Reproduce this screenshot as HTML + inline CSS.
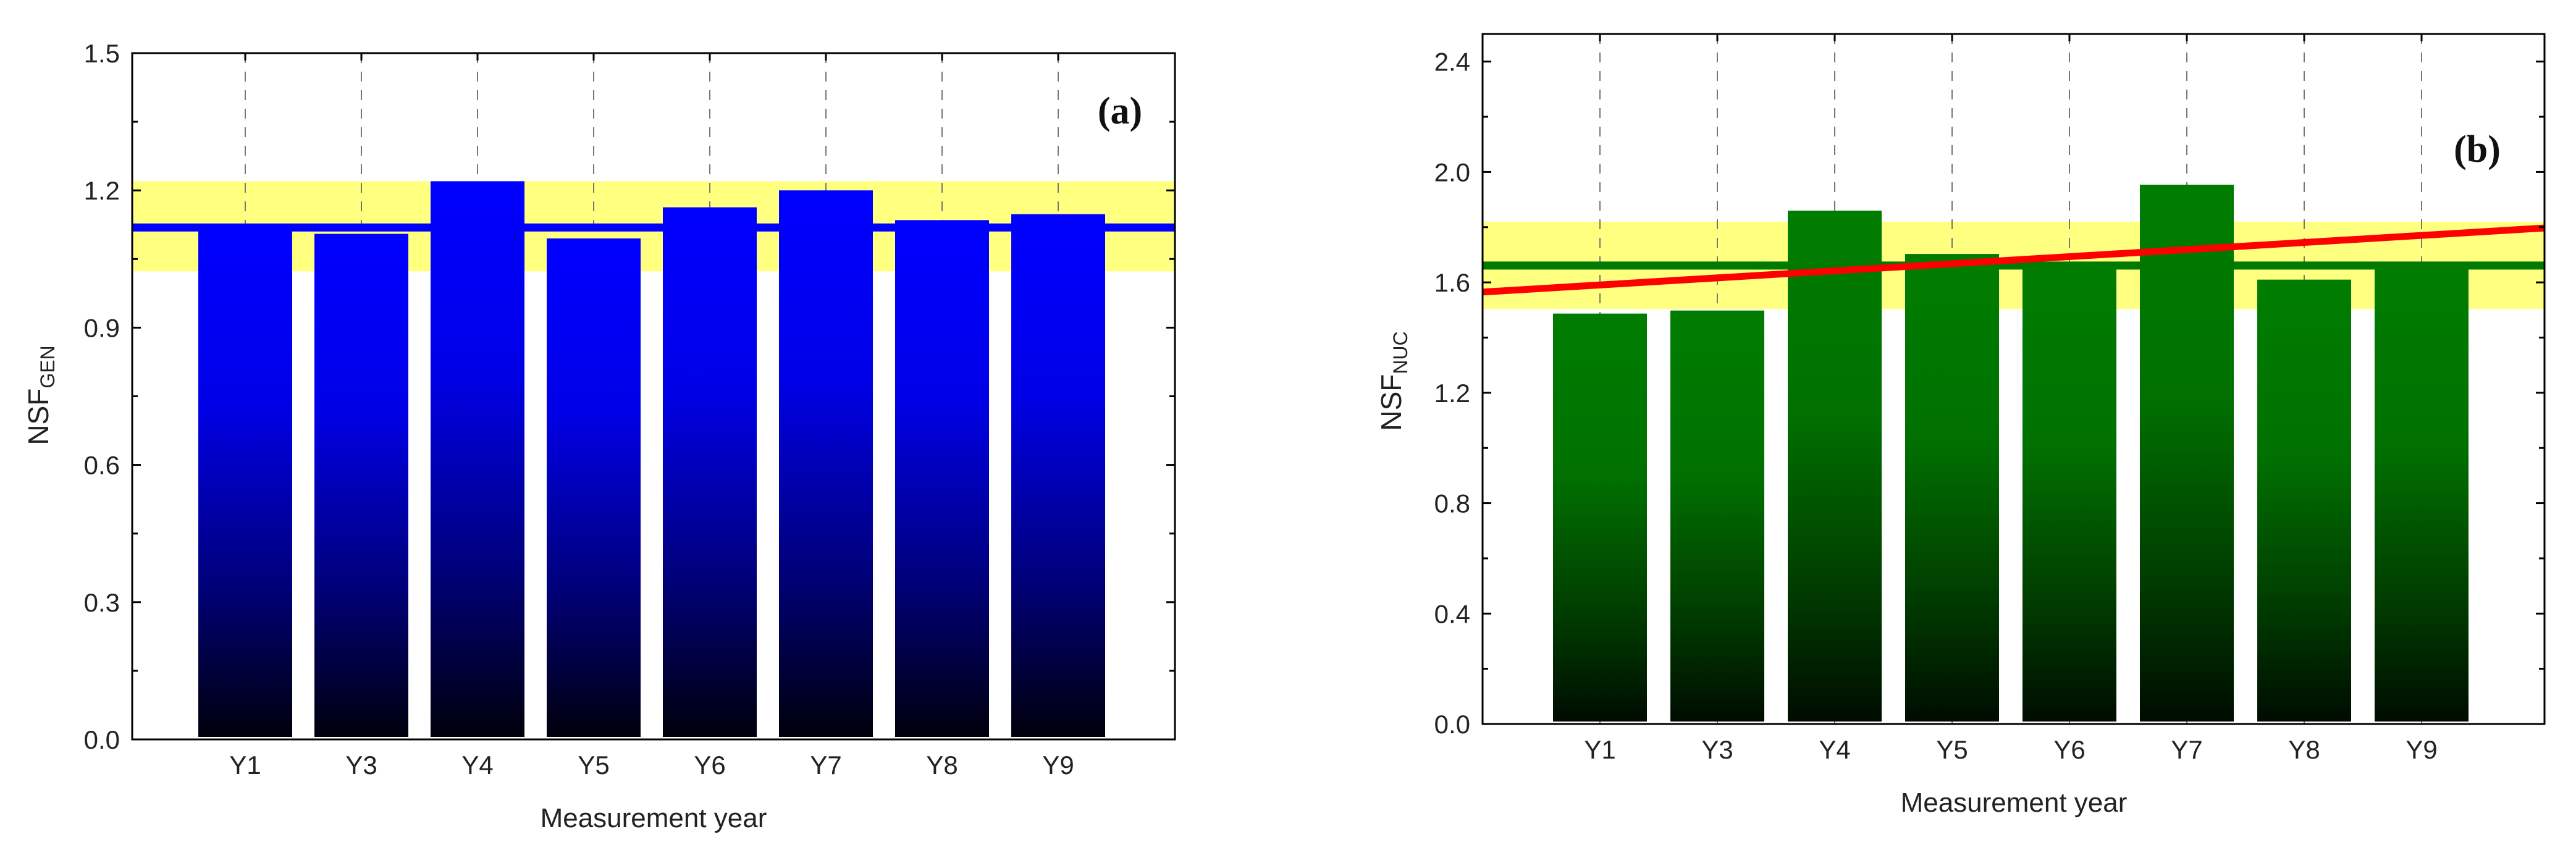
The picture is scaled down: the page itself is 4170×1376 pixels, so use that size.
<!DOCTYPE html>
<html><head><meta charset="utf-8"><style>
body{margin:0;background:#fff;}
svg{display:block;font-family:"Liberation Sans",Arial,sans-serif;}
</style></head><body>
<svg id="chart" width="4170" height="1376" viewBox="0 0 4170 1376" xmlns="http://www.w3.org/2000/svg">
<defs>
<linearGradient id="gBlue" x1="0" y1="0" x2="0" y2="1">
<stop offset="0" stop-color="#0000ff"/><stop offset="0.35" stop-color="#0000e6"/><stop offset="0.7" stop-color="#00007a"/><stop offset="1" stop-color="#00000c"/>
</linearGradient>
<linearGradient id="gGreen" x1="0" y1="0" x2="0" y2="1">
<stop offset="0" stop-color="#007d00"/><stop offset="0.4" stop-color="#007000"/><stop offset="0.75" stop-color="#003a00"/><stop offset="1" stop-color="#000c00"/>
</linearGradient>
</defs>
<g id="panelA"></g>
<g id="panelB"></g>
</svg>
<script>
const categories = ["Y1","Y3","Y4","Y5","Y6","Y7","Y8","Y9"];
const genValues = [1.12,1.105,1.22,1.095,1.163,1.2,1.135,1.148];
const genMean = 1.119;
const genBand = [1.023,1.22];
const genTicks = ["0.0","0.3","0.6","0.9","1.2","1.5"];
const nucValues = [1.487,1.498,1.86,1.703,1.66,1.954,1.61,1.66];
const nucMean = 1.661;
const nucBand = [1.504,1.82];
const nucTrend = [1.565,1.797];
const nucTicks = ["0.0","0.4","0.8","1.2","1.6","2.0","2.4"];

const NS="http://www.w3.org/2000/svg";
function mk(parent,tag,attrs){const e=document.createElementNS(NS,tag);for(const k in attrs)e.setAttribute(k,attrs[k]);parent.appendChild(e);return e;}

function drawPanel(g,cfg){
  const {L,R,T,B,ymax,first,step,values,mean,band,ticks,tickStep,minor,grad,lineColor,tag,tagX,tagY,ytitle,sub,trend,xcat}=cfg;
  const y=v=>B-(v/ymax)*(B-T);
  const x=i=>first+i*step;
  // band
  const bandEl=mk(g,'rect',{x:L,y:y(band[1]),width:R-L,height:y(band[0])-y(band[1]),fill:'#ffff80'});
  
  
  // dashed gridlines
  categories.forEach((c,i)=>{
    const d=mk(g,'line',{x1:x(i),x2:x(i),y1:T,y2:B,stroke:'#777','stroke-width':2,'stroke-dasharray':'16,14'});
    
    
    const tt=mk(g,'line',{x1:x(i),x2:x(i),y1:T,y2:T+12,stroke:'#000','stroke-width':3});
    
    
  });
  // mean line (drawn under bars where bars exceed; reference line appears over lower bars)
  const bw=152;
  categories.forEach((c,i)=>{
    const b=mk(g,'rect',{x:x(i)-bw/2,y:y(values[i]),width:bw,height:B-4-y(values[i]),fill:'url(#'+grad+')'});
    
    
  });
  // mean line segments only where not covered by taller bars
  let segs=[[L,R]];
  categories.forEach((c,i)=>{
    if(values[i]>mean+0.005){
      const a=x(i)-bw/2,b2=x(i)+bw/2;const ns=[];
      segs.forEach(s=>{if(b2<=s[0]||a>=s[1])ns.push(s);else{if(a>s[0])ns.push([s[0],a]);if(b2<s[1])ns.push([b2,s[1]]);}});
      segs=ns;
    }
  });
  segs.forEach(s=>{
    const m=mk(g,'line',{x1:s[0],x2:s[1],y1:y(mean),y2:y(mean),stroke:lineColor,'stroke-width':13});
    
    
  });
  if(trend){
    const tr=mk(g,'line',{x1:L,x2:R,y1:y(trend[0]),y2:y(trend[1]),stroke:'#ff0000','stroke-width':11});
    
    
  }
  // axes box
  const box=mk(g,'rect',{x:L,y:T,width:R-L,height:B-T,fill:'none',stroke:'#000','stroke-width':3});
  
  
  // y ticks
  for(let k=0;k<=Math.round(ymax/minor);k++){
    const v=k*minor;const yy=y(v);
    const major=Math.abs((v/tickStep)-Math.round(v/tickStep))<1e-6;
    const len=major?14:9;
    if(yy<T-1)continue;
    const t1=mk(g,'line',{x1:L,x2:L+len,y1:yy,y2:yy,stroke:'#000','stroke-width':3});
    
    
    const t2=mk(g,'line',{x1:R-len,x2:R,y1:yy,y2:yy,stroke:'#000','stroke-width':3});
    
    
  }
  ticks.forEach((t,i)=>{
    const tx=mk(g,'text',{x:L-20,y:y(i*tickStep)+15,'text-anchor':'end','font-size':42,fill:'#222'});
    tx.textContent=t;
    
    
  });
  categories.forEach((c,i)=>{
    const tx=mk(g,'text',{x:x(i),y:B+56,'text-anchor':'middle','font-size':42,fill:'#222'});
    tx.textContent=c;
    
    
  });
  const xt=mk(g,'text',{x:xcat,y:B+142,'text-anchor':'middle','font-size':44,fill:'#222'});
  xt.textContent='Measurement year';
  
  
  const yt=mk(g,'text',{x:0,y:0,'text-anchor':'middle','font-size':46,fill:'#222',transform:'translate('+cfg.ytx+','+cfg.yty+') rotate(-90)'});
  
  
  yt.appendChild(document.createTextNode('NSF'));
  const ts=document.createElementNS(NS,'tspan');ts.setAttribute('font-size','32');ts.setAttribute('dy','10');ts.textContent=sub;yt.appendChild(ts);
  const lb=mk(g,'text',{x:tagX,y:tagY,'text-anchor':'middle','font-size':62,'font-weight':'bold','font-family':'"Liberation Serif",serif',fill:'#111'});
  lb.textContent=tag;
  
  
}

drawPanel(document.getElementById('panelA'),{L:214,R:1902,T:86,B:1197,ymax:1.5,first:397,step:188,values:genValues,mean:genMean,band:genBand,ticks:genTicks,tickStep:0.3,minor:0.15,grad:'gBlue',lineColor:'#0000ff',tag:'(a)',tagX:1813,tagY:200,ytitle:'',sub:'GEN',xcat:1058,ytx:78,yty:640});
drawPanel(document.getElementById('panelB'),{L:2400,R:4119,T:55,B:1172,ymax:2.5,first:2590,step:190,values:nucValues,mean:nucMean,band:nucBand,ticks:nucTicks,tickStep:0.4,minor:0.2,grad:'gGreen',lineColor:'#007a00',tag:'(b)',tagX:4010,tagY:262,ytitle:'',sub:'NUC',xcat:3260,ytx:2268,yty:617,trend:nucTrend});
</script>
</body></html>
